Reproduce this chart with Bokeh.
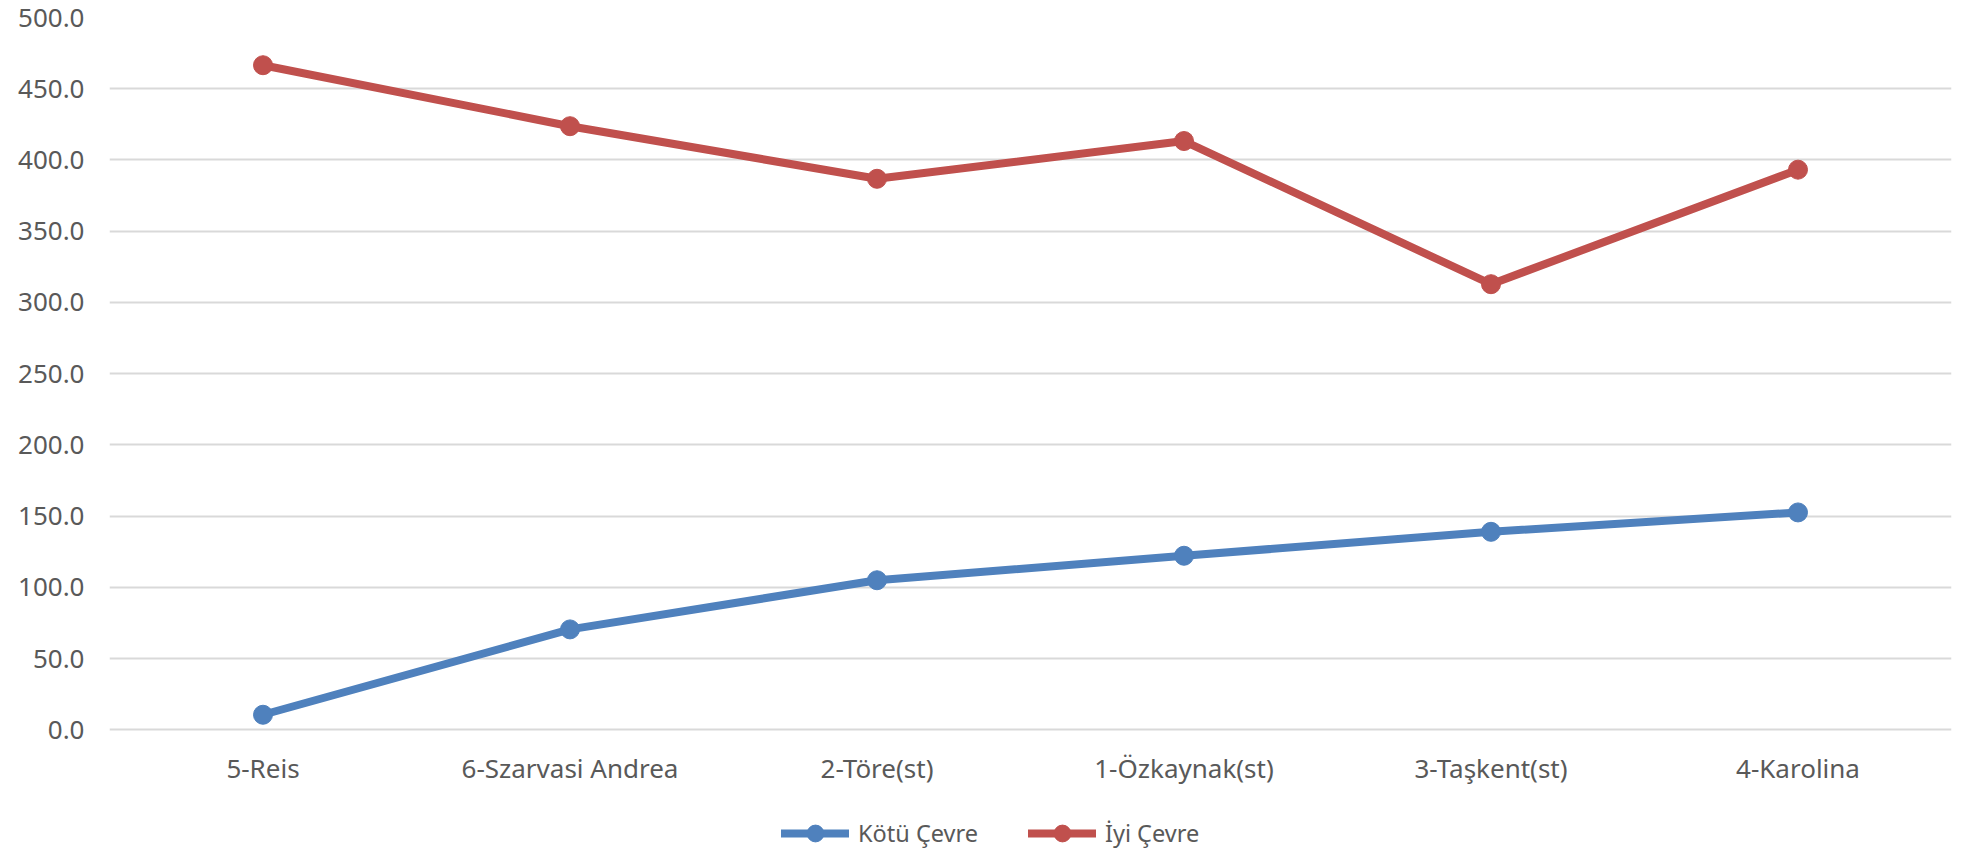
from bokeh.plotting import figure
from bokeh.models import (Range1d, FactorRange, Legend, LegendItem, FixedTicker,
                          NumeralTickFormatter, CategoricalAxis)
from bokeh.embed import file_html
from bokeh.resources import INLINE

categories = ["5-Reis", "6-Szarvasi Andrea", "2-Töre(st)", "1-Özkaynak(st)", "3-Taşkent(st)", "4-Karolina"]
kotu_cevre = [10.6, 70.5, 105.0, 122.2, 139.0, 152.6]
iyi_cevre = [466.5, 423.7, 386.8, 413.3, 312.8, 393.2]
series_names = ["Kötü Çevre", "İyi Çevre"]
colors = ["#4F81BD", "#C0504D"]
y_ticks = [0, 50, 100, 150, 200, 250, 300, 350, 400, 450, 500]

FONT = "Noto Sans"
GRAY = "#595959"

# frame spans from top gridline (500) down to the bottom of the picture,
# so the legend can sit inside it; the x axis is pinned at y = 0
p = figure(width=1969, height=855, x_range=FactorRange(*categories, range_padding=0),
           y_range=Range1d(-88.2, 500), output_backend="svg", toolbar_location=None,
           x_axis_location=None,
           min_border_left=109, min_border_right=18, min_border_top=17, min_border_bottom=0)
p.outline_line_color = None
p.background_fill_color = "white"

xaxis = CategoricalAxis(fixed_location=0)
p.add_layout(xaxis, "below")

p.yaxis.ticker = FixedTicker(ticks=y_ticks)
p.yaxis.formatter = NumeralTickFormatter(format="0.0")
for ax in (xaxis, p.yaxis[0]):
    ax.axis_line_color = None
    ax.major_tick_line_color = None
    ax.minor_tick_line_color = None
    ax.major_tick_out = 0
    ax.major_tick_in = 0
    ax.major_label_text_font = FONT
    ax.major_label_text_color = GRAY
p.yaxis.major_label_text_font_size = "26px"
xaxis.major_label_text_font_size = "26px"
p.yaxis.major_label_standoff = 25
xaxis.major_label_standoff = 20

for g in p.xgrid:
    g.visible = False
p.ygrid.grid_line_color = "#D9D9D9"
p.ygrid.grid_line_width = 2

items = []
for name, vals, c in zip(series_names, [kotu_cevre, iyi_cevre], colors):
    l = p.line(categories, vals, line_color=c, line_width=8, line_cap="round", line_join="round")
    s = p.scatter(categories, vals, size=19, fill_color=c, line_color=c)
    items.append(LegendItem(label=name, renderers=[l, s]))

legend = Legend(items=items, orientation="horizontal", location=(672, 1),
                glyph_width=68, glyph_height=42, label_standoff=9, spacing=50,
                padding=0, margin=0, border_line_color=None, background_fill_alpha=0,
                label_text_font=FONT, label_text_font_size="23.5px", label_text_color=GRAY)
p.add_layout(legend, "center")

open("out.html", "w").write(file_html(p, INLINE))
